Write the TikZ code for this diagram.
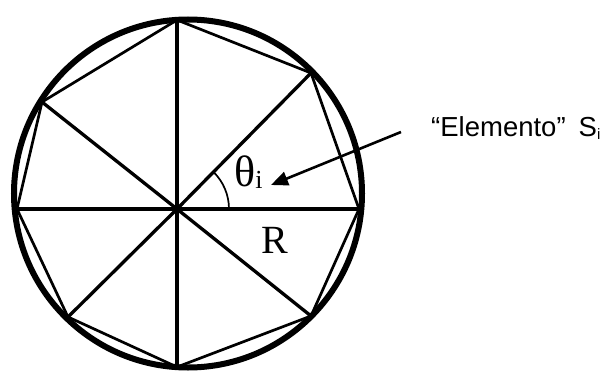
\documentclass[tikz,border=0pt]{standalone}
\usepackage{fontspec}
\setmainfont{Liberation Serif}
\newfontfamily\labelsans{Liberation Sans}
\usetikzlibrary{arrows.meta}
\begin{document}
\begin{tikzpicture}[x=1pt,y=-1pt,
  rim/.style={line width=6pt},
  spoke/.style={line width=3.3pt},
  chord/.style={line width=2.7pt, line join=miter},
  anglearc/.style={line width=1.7pt},
  pointer/.style={line width=2.6pt,-{Triangle[length=17pt,width=14pt]}},
  seriflabel/.style={font=\fontsize{40}{42}\selectfont, inner sep=0pt},
  sanslabel/.style={font=\labelsans\fontsize{27.5}{29}\selectfont, inner sep=0pt}]
\useasboundingbox (0,0) rectangle (608,372);
\coordinate (O) at (188,193.5);
\coordinate (C) at (177,209);
\coordinate (V0) at (359,209);
\coordinate (V1) at (311,73);
\coordinate (V2) at (177,20);
\coordinate (V3) at (42,102);
\coordinate (V4) at (17,209);
\coordinate (V5) at (68,317);
\coordinate (V6) at (177,367);
\coordinate (V7) at (311,316);
% circle
\draw[rim] (O) circle[radius=174pt];
% polygon
\draw[chord] (V0) -- (V1) -- (V2) -- (V3) -- (V4) -- (V5) -- (V6) -- (V7) -- cycle;
% spokes
\foreach \v in {V0,V1,V2,V3,V4,V5,V6,V7}
  \draw[spoke] (C) -- (\v);
% angle arc
\draw[anglearc] (C) ++(52pt,0pt) arc[start angle=0, end angle=45.6, radius=52pt];
% labels
\node[seriflabel, anchor=base west] (theta) at (234,186) {\fontsize{44}{44}\selectfont θ\raisebox{-2pt}{\fontsize{26}{26}\selectfont i}};
\node[seriflabel, anchor=base west] (R) at (261,253) {R};
\node[sanslabel, anchor=base west] (elem) at (431,136) {“Elemento”\hspace{13pt}S\raisebox{-3pt}{\fontsize{15}{15}\selectfont i}};
% arrow
\coordinate (astart) at (401,132);
\coordinate (atip) at (271,185);
\draw[pointer] (astart) -- (atip);
\end{tikzpicture}
\end{document}
